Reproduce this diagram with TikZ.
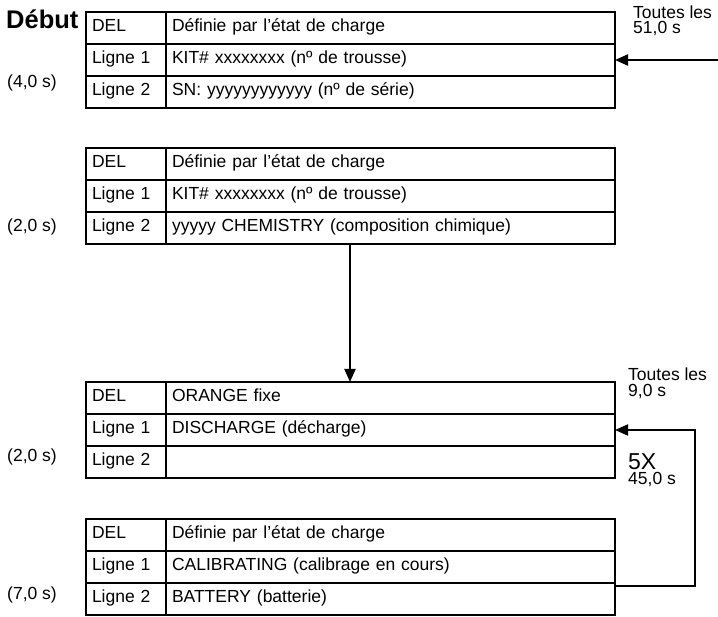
\documentclass[tikz,border=0pt]{standalone}
\usepackage{fontspec}
\setmainfont{Liberation Sans}
\usetikzlibrary{arrows.meta}

\tikzset{
  cellbase/.style={draw, line width=2pt, outer sep=0pt, anchor=north west, minimum height=32pt,
    inner xsep=6pt, inner ysep=0pt, align=left, text height=11.5pt, text depth=4.5pt,
    font=\fontsize{17.5}{20}\selectfont},
  labcell/.style={cellbase, minimum width=80pt, text width=68pt},
  valcell/.style={cellbase, minimum width=449pt, text width=437pt},
  note/.style={anchor=base west, inner sep=0pt, font=\fontsize{17.5}{20}\selectfont, align=left},
  stack/.style={note, anchor=north west},
  arr/.style={line width=2pt, -{Triangle[length=13pt,width=11pt]}}
}

% one three-row table: #1 name prefix, #2 top y, #3..#5 right-column texts
\newcommand{\statetable}[5]{%
  \node[labcell] (#1l1) at (86,#2) {DEL};
  \node[valcell] (#1v1) at (#1l1.north east) {#3};
  \node[labcell] (#1l2) at (#1l1.south west) {Ligne 1};
  \node[valcell] (#1v2) at (#1l2.north east) {#4};
  \node[labcell] (#1l3) at (#1l2.south west) {Ligne 2};
  \node[valcell] (#1v3) at (#1l3.north east) {#5};
}

\begin{document}
\begin{tikzpicture}[x=1pt,y=-1pt]
  \useasboundingbox (0,0) rectangle (718,617);

  \statetable{ta}{12}{Définie par l’état de charge}{KIT\# xxxxxxxx (nº de trousse)}{SN: yyyyyyyyyyyy (nº de série)}
  \statetable{tb}{148}{Définie par l’état de charge}{KIT\# xxxxxxxx (nº de trousse)}{yyyyy CHEMISTRY (composition chimique)}
  \statetable{tc}{382}{ORANGE fixe}{DISCHARGE (décharge)}{}
  \statetable{td}{519}{Définie par l’état de charge}{CALIBRATING (calibrage en cours)}{BATTERY (batterie)}

  % left-hand labels
  \node[note, font=\bfseries\fontsize{25.5}{28}\selectfont] (debut) at (6,28.5) {Début};
  \node[note] (da) at (7,88) {(4,0 s)};
  \node[note] (db) at (7,231.5) {(2,0 s)};
  \node[note] (dc) at (7,462) {(2,0 s)};
  \node[note] (dd) at (7,599) {(7,0 s)};

  % right-hand labels (two lines each)
  \node[stack, font=\fontsize{17.5}{15.5}\selectfont] (ra) at (633,5.5) {Toutes les\\51,0 s};
  \node[stack, font=\fontsize{17.5}{16}\selectfont] (rb) at (628,368) {Toutes les\\9,0 s};
  \node[stack, font=\fontsize{17.5}{15}\selectfont] (rc) at (628,453.5) {{\fontsize{23}{15}\selectfont 5X}\\45,0 s};

  % connectors
  \coordinate (entry) at (718,60);
  \coordinate (loopx) at (695,0);
  \draw[arr] (entry) -- (tav2.east);
  \draw[arr] ([xshift=-40.5pt]tbv3.south) -- ([xshift=-40.5pt]tcv1.north);
  \coordinate (loopstart) at ([yshift=-3pt]tdv3.north east);
  \draw[arr] (loopstart) -- (loopstart -| loopx) |- (tcv2.east);
\end{tikzpicture}
\end{document}
